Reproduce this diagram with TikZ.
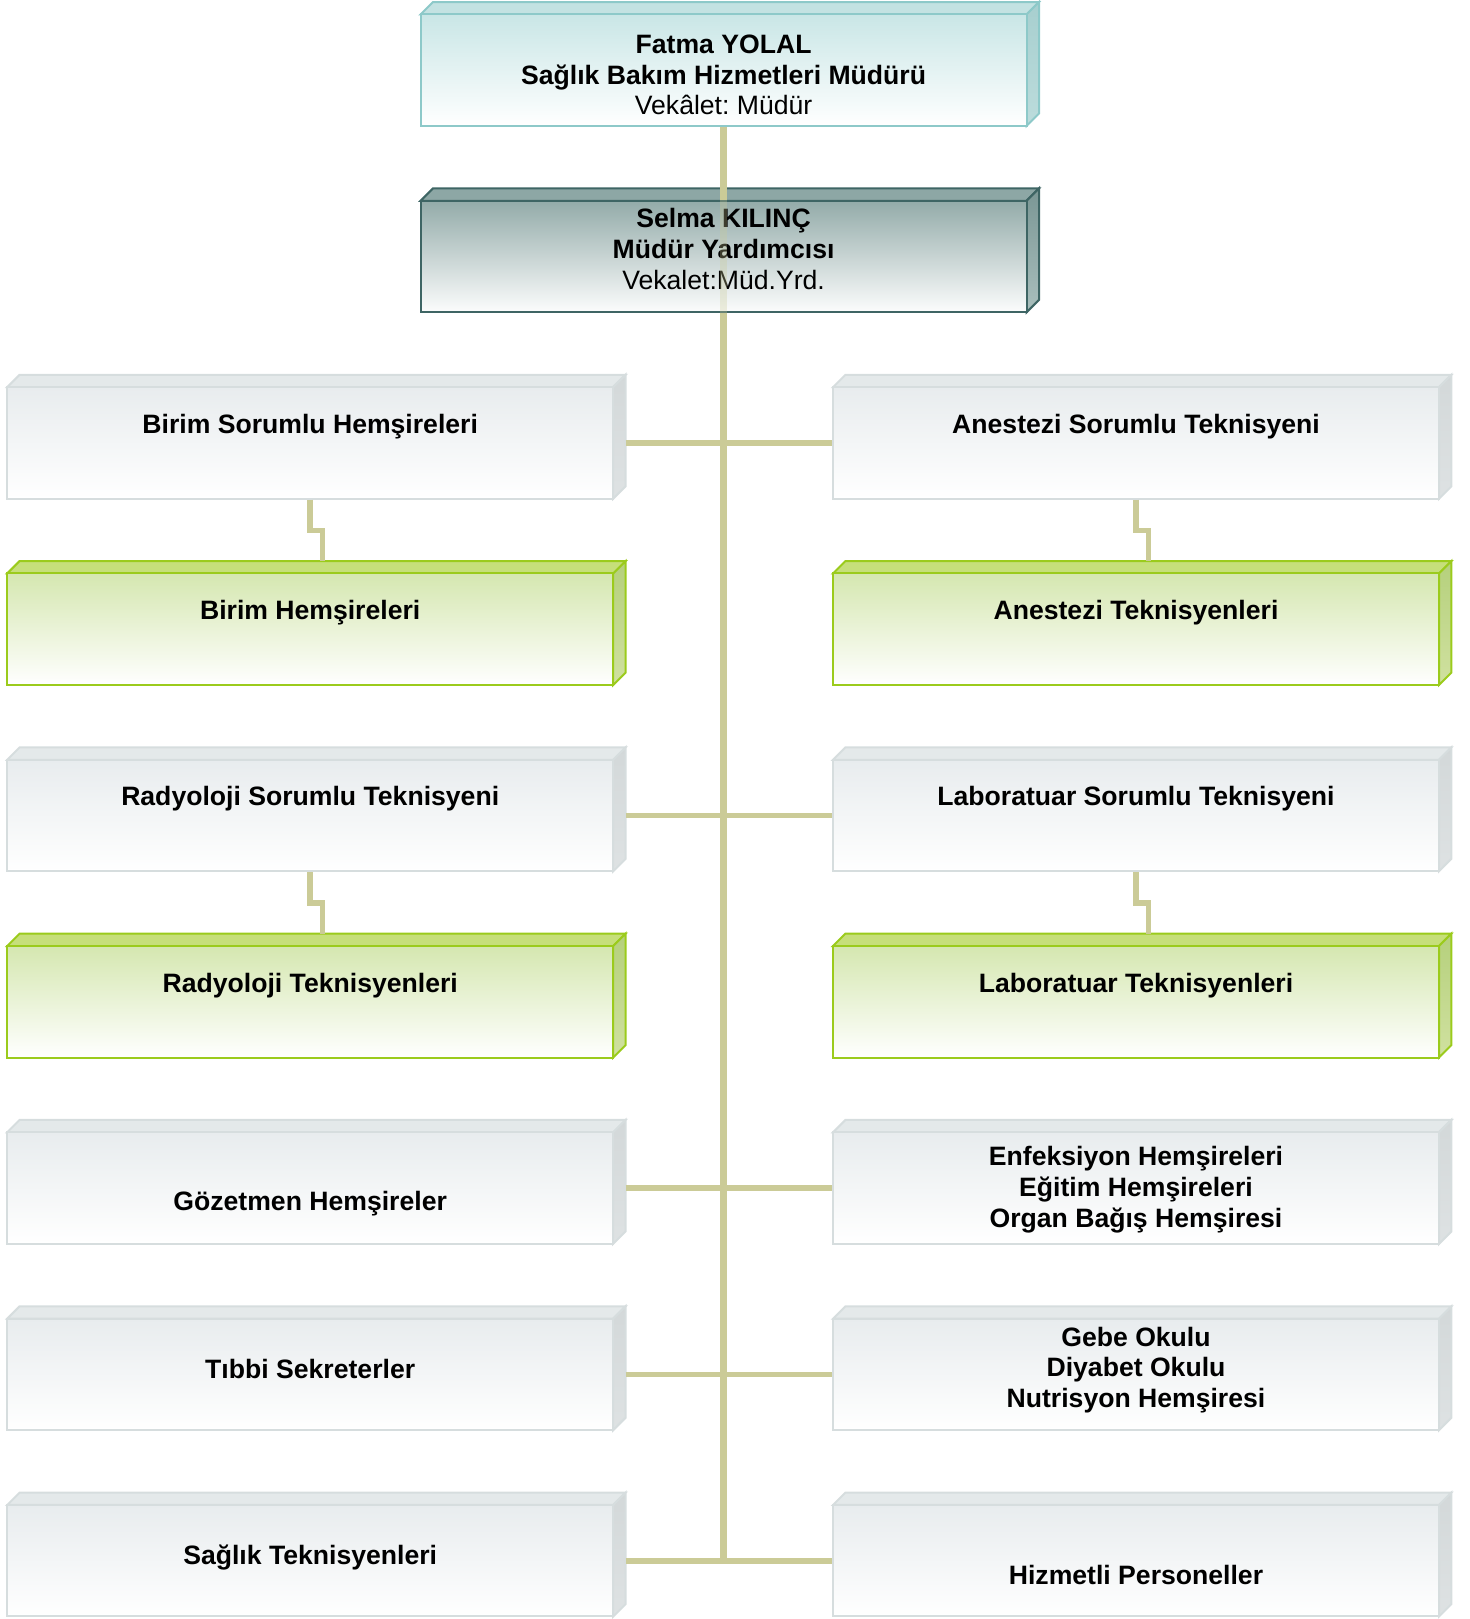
\documentclass[tikz,border=0pt]{standalone}
\usepackage{fontspec}
\setmainfont{Liberation Sans}
\usepackage{tikz}
\usetikzlibrary{positioning}
\frenchspacing

\definecolor{linkColor}{HTML}{CBCB97}
\definecolor{grayLine}{HTML}{D6DDDE}
\definecolor{grayTop}{HTML}{E4E9EA}
\definecolor{graySide}{HTML}{D3D8D9}
\definecolor{graySideLow}{HTML}{DEE2E3}
\definecolor{grayFront}{HTML}{E8ECEE}
\definecolor{greenLine}{HTML}{9BCB1C}
\definecolor{greenTop}{HTML}{C6DF7A}
\definecolor{greenSide}{HTML}{B5D07C}
\definecolor{greenSideLow}{HTML}{D0E1A0}
\definecolor{greenFront}{HTML}{D5E7B0}
\definecolor{tealLine}{HTML}{8DC9C9}
\definecolor{tealTop}{HTML}{C3E2E2}
\definecolor{tealSide}{HTML}{A7CFCF}
\definecolor{tealSideLow}{HTML}{BCDCDC}
\definecolor{tealFront}{HTML}{C9E6E6}
\definecolor{darkLine}{HTML}{3E6564}
\definecolor{darkTop}{HTML}{8DA7A5}
\definecolor{darkSide}{HTML}{7A9694}
\definecolor{darkSideLow}{HTML}{AABFBD}
\definecolor{darkFront}{HTML}{93ABA9}

\tikzset{
    boxline/.store in=\boxline, boxtop/.store in=\boxtop,
    boxside/.store in=\boxside, boxsidelow/.store in=\boxsidelow,
    boxfront/.store in=\boxfront, boxfrontlow/.store in=\boxfrontlow,
    textdy/.store in=\textdy,
    grayTone/.style={boxline=grayLine, boxtop=grayTop, boxside=graySide, boxsidelow=graySideLow, boxfront=grayFront, boxfrontlow=white},
    greenTone/.style={boxline=greenLine, boxtop=greenTop, boxside=greenSide, boxsidelow=greenSideLow, boxfront=greenFront, boxfrontlow=white},
    tealTone/.style={boxline=tealLine, boxtop=tealTop, boxside=tealSide, boxsidelow=tealSideLow, boxfront=tealFront, boxfrontlow=white},
    darkTone/.style={boxline=darkLine, boxtop=darkTop, boxside=darkSide, boxsidelow=darkSideLow, boxfront=darkFront, boxfrontlow={white!97!darkFront}},
    grayTone, textdy=0,
    boxtext/.style={align=center, inner sep=0pt, font=\fontsize{13.3}{15.3}\selectfont\bfseries},
    trunk/.style={draw=linkColor, line width=3.3pt},
    branch/.style={draw=linkColor, line width=2.8pt}
}
\tikzset{
    orgBox/.pic={
		\path[fill=\boxtop, draw=\boxline, line width=1pt] (-303,-55.75) -- (-290.6,-68.15) -- (315.4,-68.15) -- (303,-55.75) -- cycle;
		\path[draw=\boxline, line width=1pt, top color=\boxside, bottom color=\boxsidelow] (303,-55.75) -- (315.4,-68.15) -- (315.4,43.35) -- (303,55.75) -- cycle;
		\node[draw=\boxline, line width=1pt, top color=\boxfront, bottom color=\boxfrontlow, minimum width=303pt, minimum height=55.75pt, inner sep=0pt] (-front) at (0,0) {};
		\node[boxtext] (-text) at (0,\textdy) {#1};
		\coordinate (-side) at (315.4,0);
		\coordinate (-back) at (12.4,-68.15);
	}
}

\begin{document}
\begin{tikzpicture}[x=0.5pt, y=-0.5pt]
			\useasboundingbox (0,0) rectangle (1470,1619);
			\pic[tealTone, textdy=5] (fy) at (723.6,70.2) {orgBox={Fatma YOLAL\\Sağlık Bakım Hizmetleri Müdürü\\\mdseries Vekâlet: Müdür}};
			\pic[darkTone, textdy=-7.5] (sk) at (723.6,256.5) {orgBox={Selma KILINÇ\\Müdür Yardımcısı\\\mdseries Vekalet:Müd.Yrd.}};
			% left column
			\pic[textdy=-16.6] (bsh) at (310.2,442.9) {orgBox={Birim Sorumlu Hemşireleri}};
			\pic[greenTone, textdy=-16.1] (bh) at (310.2,629.2) {orgBox={Birim Hemşireleri}};
			\pic[textdy=-16.6] (rst) at (310.2,815.5) {orgBox={Radyoloji Sorumlu Teknisyeni}};
			\pic[greenTone, textdy=-16] (rt) at (310.2,1001.8) {orgBox={Radyoloji Teknisyenleri}};
			\pic[textdy=15.5] (gh) at (310.2,1188.1) {orgBox={Gözetmen Hemşireler}};
			\pic[textdy=-5.5] (ts) at (310.2,1374.4) {orgBox={Tıbbi Sekreterler}};
			\pic[textdy=-3] (st) at (310.2,1560.7) {orgBox={Sağlık Teknisyenleri}};
			% right column
			\pic[textdy=-16.6] (ast) at (1136,442.9) {orgBox={Anestezi Sorumlu Teknisyeni}};
			\pic[greenTone, textdy=-16.1] (at) at (1136,629.2) {orgBox={Anestezi Teknisyenleri}};
			\pic[textdy=-16.6] (lst) at (1136,815.5) {orgBox={Laboratuar Sorumlu Teknisyeni}};
			\pic[greenTone, textdy=-16] (lt) at (1136,1001.8) {orgBox={Laboratuar Teknisyenleri}};
			\pic[textdy=1.5] (ehe) at (1136,1188.1) {orgBox={Enfeksiyon Hemşireleri\\Eğitim Hemşireleri\\Organ Bağış Hemşiresi}};
			\pic[textdy=-4.5] (gok) at (1136,1374.4) {orgBox={Gebe Okulu\\Diyabet Okulu\\Nutrisyon Hemşiresi}};
			\pic[textdy=14.6] (hp) at (1136,1560.7) {orgBox={Hizmetli Personeller}};
			% connectors
			\draw[trunk] (fy-front.south) -- (sk-front.north);
			\draw[trunk, opacity=0.3] (sk-front.north) -- (sk-front.south);
			\draw[trunk] (sk-front.south) -- (fy-front.south |- st-side);
			\foreach \l/\r in {bsh/ast, rst/lst, gh/ehe, ts/gok, st/hp}
				\draw[branch] (\l-side) -- (\r-front.west);
			\foreach \u/\d in {bsh/bh, ast/at, rst/rt, lst/lt}
				\draw[branch] (\u-front.south) -- ++(0,31) -| (\d-back);
		\end{tikzpicture}
\end{document}
